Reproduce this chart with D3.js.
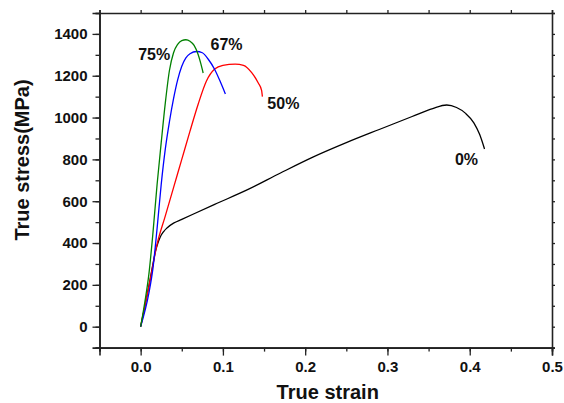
<!DOCTYPE html>
<html>
<head>
<script src="https://d3js.org/d3.v7.min.js"></script>
<style>
body { margin: 0; background: #fff; }
text { font-family: Arial, "Liberation Sans", sans-serif; font-weight: bold; fill: #111; }
</style>
</head>
<body>
<script>
// strain values and stress values (MPa) for each reduction
var strain0 = [0, 0.005, 0.01, 0.015, 0.018, 0.021, 0.024, 0.028, 0.032, 0.04, 0.05, 0.09, 0.13, 0.17, 0.21, 0.25, 0.29, 0.33, 0.355, 0.372, 0.384, 0.395, 0.405, 0.412, 0.418];
var stress0 = [0, 95, 195, 300, 360, 400, 430, 455, 472, 495, 513, 585, 655, 735, 812, 880, 943, 1005, 1043, 1060, 1048, 1020, 975, 920, 850];

var strain50 = [0, 0.01, 0.02, 0.03, 0.04, 0.05, 0.06, 0.07, 0.08, 0.09, 0.1, 0.115, 0.125, 0.135, 0.143, 0.147, 0.148];
var stress50 = [0, 190, 395, 530, 665, 800, 935, 1065, 1175, 1232, 1250, 1256, 1250, 1215, 1165, 1130, 1100];

var strain67 = [0, 0.01, 0.015, 0.02, 0.025, 0.03, 0.035, 0.04, 0.045, 0.05, 0.055, 0.06, 0.068, 0.075, 0.082, 0.09, 0.097, 0.103];
var stress67 = [0, 160, 280, 470, 680, 850, 980, 1090, 1180, 1245, 1285, 1305, 1316, 1310, 1280, 1230, 1170, 1113];

var strain75 = [0, 0.005, 0.01, 0.015, 0.02, 0.025, 0.03, 0.035, 0.04, 0.045, 0.05, 0.055, 0.06, 0.065, 0.07, 0.073, 0.076];
var stress75 = [0, 115, 250, 450, 680, 880, 1070, 1225, 1310, 1350, 1368, 1372, 1365, 1345, 1300, 1260, 1213];

var seriesNames = ["0%", "50%", "67%", "75%"];
var seriesColors = ["#000000", "#ff0000", "#0000ff", "#008000"];
var xTicks = [0.0, 0.1, 0.2, 0.3, 0.4, 0.5];
var yTicks = [0, 200, 400, 600, 800, 1000, 1200, 1400];

var W = 564, H = 403;
var L = 99.5, R = 552, T = 13, B = 347.6;

var svg = d3.select("body").append("svg")
  .attr("width", W).attr("height", H);

var x = d3.scaleLinear().domain([-0.05, 0.5]).range([L, R]);
var y = d3.scaleLinear().domain([-100, 1500]).range([B, T]);

var minorX = d3.range(-0.05, 0.5001, 0.05);
var minorY = d3.range(-100, 1500.1, 100);

// bottom axis
svg.append("g").attr("transform", "translate(0," + B + ")")
  .call(d3.axisBottom(x).tickValues(minorX).tickSize(4).tickFormat(""));
svg.append("g").attr("transform", "translate(0," + B + ")")
  .call(d3.axisBottom(x).tickValues(xTicks).tickSize(8).tickPadding(6).tickFormat(d3.format(".1f")))
  .selectAll("text").style("font-size", "15px");

// left axis
svg.append("g").attr("transform", "translate(" + L + ",0)")
  .call(d3.axisLeft(y).tickValues(minorY).tickSize(4).tickFormat(""));
svg.append("g").attr("transform", "translate(" + L + ",0)")
  .call(d3.axisLeft(y).tickValues(yTicks).tickSize(7).tickPadding(5).tickFormat(d3.format("d")))
  .selectAll("text").style("font-size", "15px");

// top and right axes
svg.append("g").attr("transform", "translate(0," + T + ")")
  .call(d3.axisTop(x).tickValues(minorX).tickSize(3).tickFormat(""));
svg.append("g").attr("transform", "translate(" + R + ",0)")
  .call(d3.axisRight(y).tickValues(minorY).tickSize(3).tickFormat(""));

svg.selectAll(".domain").attr("stroke", "#222").attr("stroke-width", 1.6);
svg.selectAll(".tick line").attr("stroke", "#222").attr("stroke-width", 1.3);

// curves
var strains = [strain0, strain50, strain67, strain75];
var stresses = [stress0, stress50, stress67, stress75];
var line = d3.line()
  .x(function(d) { return x(d[0]); })
  .y(function(d) { return y(d[1]); })
  .curve(d3.curveMonotoneX);

seriesNames.forEach(function(name, i) {
  var pts = strains[i].map(function(s, j) { return [s, stresses[i][j]]; });
  svg.append("path")
    .datum(pts)
    .attr("d", line)
    .attr("fill", "none")
    .attr("stroke", seriesColors[i])
    .attr("stroke-width", 1.3);
});

// curve labels
var labelPos = [[0.382, 775], [0.154, 1040], [0.085, 1325], [-0.003, 1275]];
seriesNames.forEach(function(name, i) {
  svg.append("text")
    .attr("x", x(labelPos[i][0]))
    .attr("y", y(labelPos[i][1]))
    .style("font-size", "16px")
    .text(name);
});

// axis titles
svg.append("text")
  .attr("x", (L + R) / 2 + 2).attr("y", 399)
  .attr("text-anchor", "middle")
  .style("font-size", "20px")
  .text("True strain");

svg.append("text")
  .attr("transform", "translate(29,160) rotate(-90)")
  .attr("text-anchor", "middle")
  .style("font-size", "20px")
  .text("True stress(MPa)");
</script>
</body>
</html>
